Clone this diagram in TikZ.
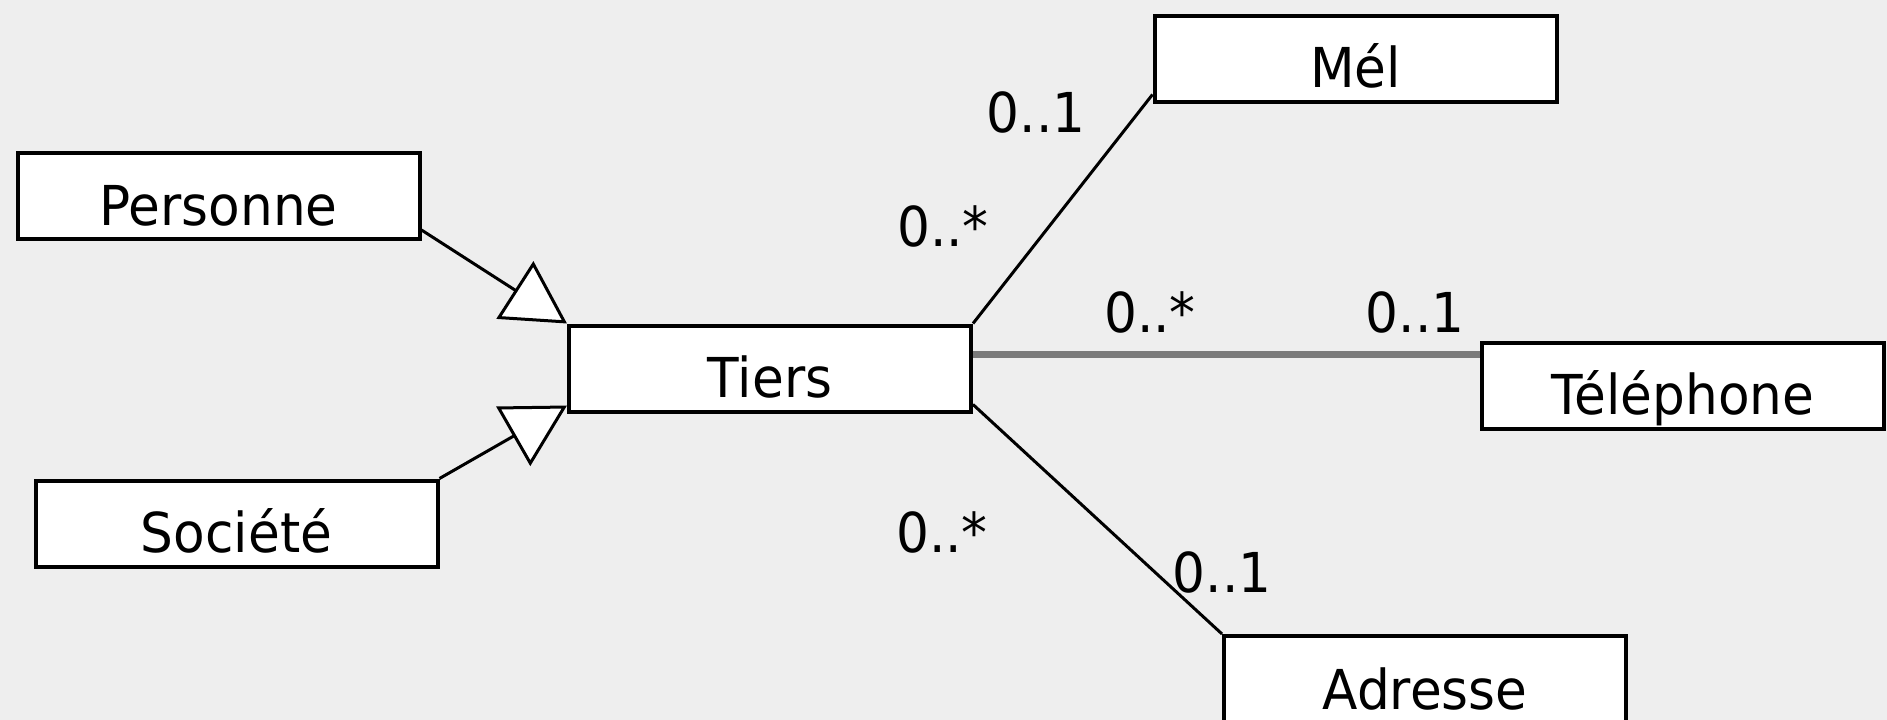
\documentclass[tikz,border=0pt]{standalone}
\usepackage{fontspec}
\setmainfont{DejaVu Sans}[FakeStretch=0.94]
\usetikzlibrary{arrows.meta}
\definecolor{canvas}{HTML}{EEEEEE}
\definecolor{assocgray}{HTML}{7A7A7A}
\begin{document}
\begin{tikzpicture}[x=1pt,y=-1pt,
  class/.style={draw=black, line width=4pt, fill=white,
    minimum width=402pt, minimum height=86pt, inner sep=0pt,
    text height=58pt, text depth=0pt, font=\fontsize{55}{60}\selectfont},
  mult/.style={anchor=base, inner sep=0pt, font=\fontsize{55}{60}\selectfont},
  assoc/.style={draw=black, line width=3pt},
  strongassoc/.style={draw=assocgray, line width=7pt},
  inherit/.style={draw=black, line width=3pt,
    -{Triangle[length=62pt,width=68pt,fill=white]}}]
% canvas
\fill[canvas] (0,0) rectangle (1887,720);
\useasboundingbox (0,0) rectangle (1887,720);

% classes
\node[class] (personne) at (218.5,196) {Personne};
\node[class] (societe)  at (236.5,523.5) {Société};
\node[class] (tiers)    at (770,368.5) {Tiers};
\node[class] (mel)      at (1355.5,58.5) {Mél};
\node[class] (tel)      at (1683,385.5) {Téléphone};
\node[class, minimum height=88pt] (adresse) at (1425,680) {Adresse};

% generalisations
\draw[inherit] ([yshift=11pt]personne.south east) -- (tiers.north west);
\draw[inherit] (societe.north east) -- ([yshift=8pt]tiers.south west);

% associations
\coordinate (telin) at ([yshift=-14pt]tel.north west);
\draw[assoc] (tiers.north east) -- ([yshift=9pt]mel.south west);
\draw[strongassoc] (tiers.east |- telin) -- (telin);
\draw[assoc] ([yshift=9pt]tiers.south east) -- (adresse.north west);

% multiplicities
\node[mult] (m1) at (1036,132) {0..1};
\node[mult] (m2) at (943,246) {0..*};
\node[mult] (m3) at (1150,332) {0..*};
\node[mult] (m4) at (1415,332) {0..1};
\node[mult] (m5) at (942,552) {0..*};
\node[mult] (m6) at (1222,592) {0..1};
\end{tikzpicture}
\end{document}
